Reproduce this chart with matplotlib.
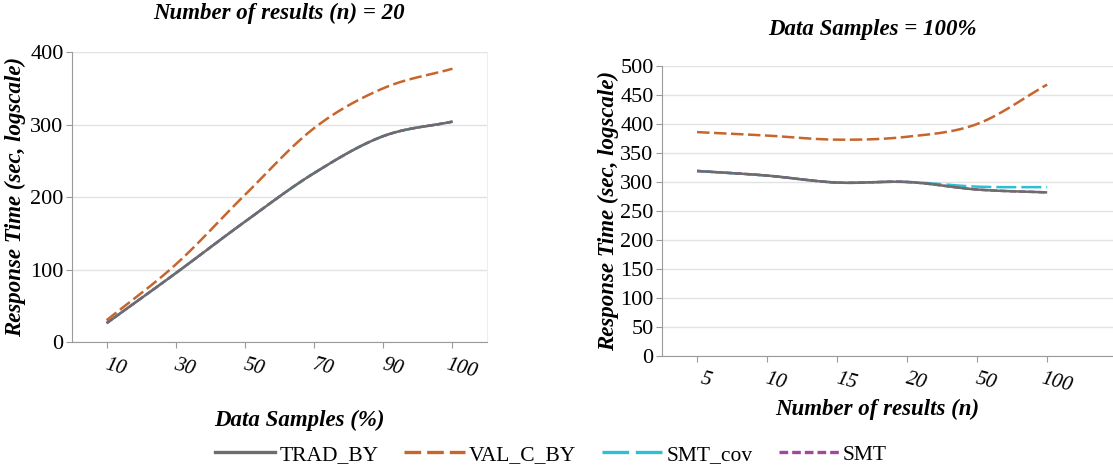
import numpy as np
import matplotlib
matplotlib.use("Agg")
import matplotlib.pyplot as plt
import matplotlib.transforms as mtransforms
from matplotlib.lines import Line2D

plt.rcParams['font.family'] = ['Liberation Serif', 'DejaVu Serif']

# left panel: n = 20, x = data samples (%)
samples = ["10", "30", "50", "70", "90", "100"]
trad_left = [26, 95, 166, 233, 284, 304]
val_left = [30, 107, 203, 295, 350, 377]
smtcov_left = [26, 95, 166, 233, 284, 304]
smt_left = [26, 95, 166, 233, 284, 304]

# right panel: data samples = 100%, x = number of results
nres = ["5", "10", "15", "20", "50", "100"]
trad_right = [319, 311, 299, 300, 287, 282]
val_right = [386, 380, 373, 378, 400, 468]
smtcov_right = [319, 311, 299, 300, 292, 291]
smt_right = [319, 311, 299, 300, 287, 282]

names = ["TRAD_BY", "VAL_C_BY", "SMT_cov", "SMT"]
colors = ["#6d6d6d", "#c8652c", "#2fbfd2", "#a2479c"]
dashes = [None, (5, 1.8), (8, 2), (2.6, 1.2)]


def smooth(y, k=20):
    # catmull-rom curve through the points, for drawing only
    y = np.asarray(y, float)
    x = np.arange(len(y), dtype=float)
    px = np.concatenate([[2 * x[0] - x[1]], x, [2 * x[-1] - x[-2]]])
    py = np.concatenate([[2 * y[0] - y[1]], y, [2 * y[-1] - y[-2]]])
    xs, ys = [], []
    t = np.linspace(0, 1, k, endpoint=False)
    for i in range(1, len(px) - 2):
        for p, out in ((px, xs), (py, ys)):
            p0, p1, p2, p3 = p[i - 1], p[i], p[i + 1], p[i + 2]
            out.extend(0.5 * (2 * p1 + (-p0 + p2) * t
                              + (2 * p0 - 5 * p1 + 4 * p2 - p3) * t ** 2
                              + (-p0 + 3 * p1 - 3 * p2 + p3) * t ** 3))
    xs.append(x[-1])
    ys.append(y[-1])
    return np.array(xs), np.array(ys)


def draw(ax, series):
    for i in [2, 3, 0, 1]:
        xs, ys = smooth(series[i])
        ln, = ax.plot(xs, ys, color=colors[i], lw=1.8, solid_capstyle='butt')
        if dashes[i]:
            ln.set_dashes(dashes[i])


def style(ax, labels, ymax, ystep):
    ax.set_ylim(0, ymax)
    ax.set_yticks(range(0, ymax + 1, ystep))
    ax.set_xticks(range(len(labels)))
    ax.tick_params(axis='y', labelsize=16, length=4, color=spinec, pad=2)
    ax.tick_params(axis='x', length=4, color=spinec, pad=6)
    ax.set_xticklabels(labels, style='italic', rotation=-15, fontsize=15)
    # labels sit a little right of their ticks
    shift = mtransforms.ScaledTranslation(9 / 100, 0, fig.dpi_scale_trans)
    for lab in ax.get_xticklabels():
        lab.set_transform(lab.get_transform() + shift)
    ax.grid(axis='y', color=gridc, lw=1)
    ax.set_axisbelow(True)
    ax.spines['top'].set_visible(False)
    for s in ['left', 'bottom']:
        ax.spines[s].set_color(spinec)


fig = plt.figure(figsize=(11.13, 4.70), dpi=100)

gridc = "#e2e2e2"
spinec = "#9a9a9a"
bold = dict(fontsize=16.5, fontweight='bold', style='italic')

# left
ax1 = fig.add_axes([0.0647, 0.2723, 0.3729, 0.617])
draw(ax1, [trad_left, val_left, smtcov_left, smt_left])
ax1.set_xlim(-0.5, 5.5)
style(ax1, samples, 400, 100)
ax1.spines['right'].set_color("#eeeeee")
ax1.set_title("Number of results (n) = 20", pad=24, **bold)
ax1.set_ylabel("Response Time (sec, logscale)", labelpad=3, **bold)
ax1.set_xlabel("Data Samples (%)", labelpad=20, x=0.547, **bold)

# right
ax2 = fig.add_axes([0.5948, 0.2426, 0.4052, 0.617])
draw(ax2, [trad_right, val_right, smtcov_right, smt_right])
ax2.set_xlim(-0.5, 5.94)
style(ax2, nres, 500, 50)
ax2.spines['right'].set_visible(False)
ax2.set_title("Data Samples = 100%", pad=22, x=0.466, **bold)
ax2.set_ylabel("Response Time (sec, logscale)", labelpad=1, **bold)
ax2.set_xlabel("Number of results (n)", labelpad=2, x=0.478, **bold)

handles = []
for i in range(4):
    h = Line2D([], [], color=colors[i], lw=2.4)
    if dashes[i]:
        h.set_dashes(dashes[i])
    handles.append(h)
fig.legend(handles, names, loc='center', bbox_to_anchor=(0.495, 0.032),
           ncol=4, frameon=False, fontsize=15.5, handlelength=2.8,
           handletextpad=0.2, columnspacing=1.2)

fig.savefig("out.png", dpi=100)
